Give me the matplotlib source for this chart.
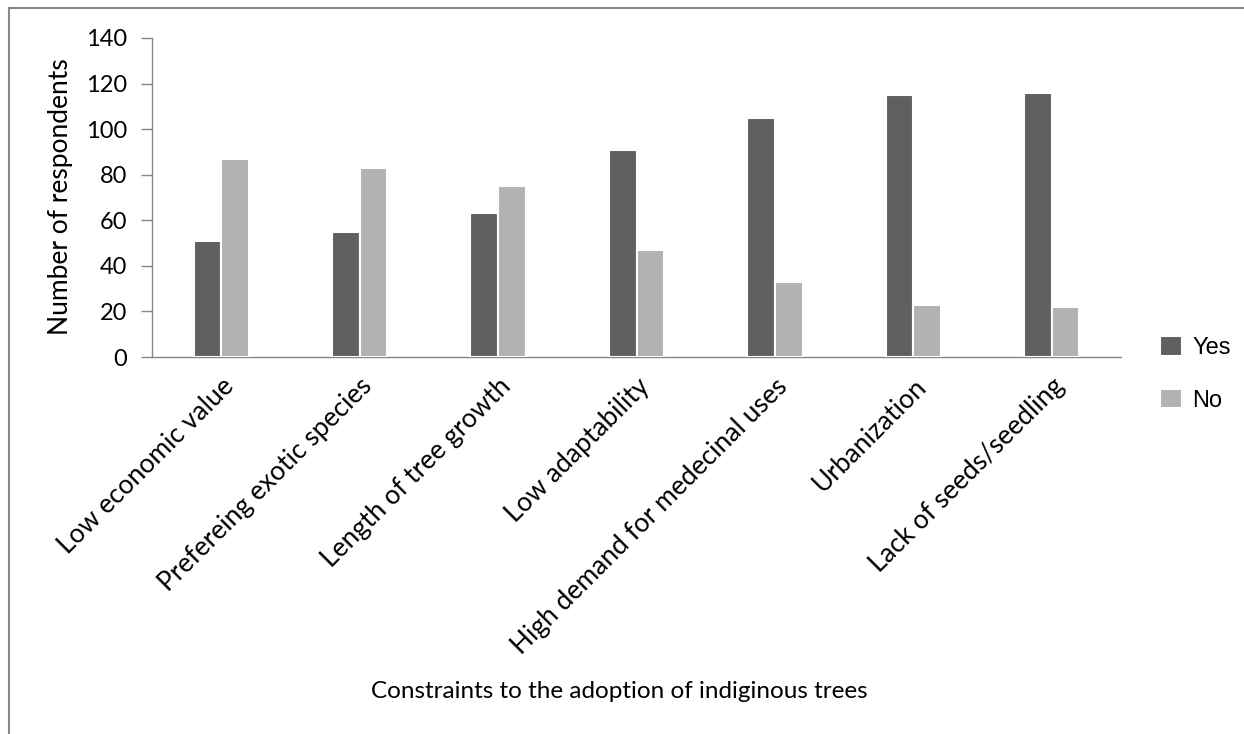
import numpy as np
import matplotlib
matplotlib.use("Agg")
import matplotlib.pyplot as plt
from matplotlib.lines import Line2D

plt.rcParams["font.family"] = ["Lato", "DejaVu Sans"]

constraints = [
    "Low economic value",
    "Prefereing exotic species",
    "Length of tree growth",
    "Low adaptability",
    "High demand for medecinal uses",
    "Urbanization",
    "Lack of seeds/seedling",
]
yes_counts = [51, 55, 63, 91, 105, 115, 116]
no_counts = [87, 83, 75, 47, 33, 23, 22]

W, H = 1244, 734
fig = plt.figure(figsize=(W / 100, H / 100), dpi=100)
ax = fig.add_axes([152 / W, 1 - 357 / H, (1121 - 152) / W, (357 - 38) / H])

x = np.arange(len(constraints))
b1 = ax.bar(x - 0.1, yes_counts, width=0.2, color="#606060", edgecolor="white",
            linewidth=1.5, label="Yes", zorder=3)
b2 = ax.bar(x + 0.1, no_counts, width=0.2, color="#b2b2b2", edgecolor="white",
            linewidth=1.5, label="No", zorder=3)

ax.set_xlim(-0.5, len(constraints) - 0.5)
ax.set_ylim(0, 140)
ax.set_yticks(range(0, 141, 20))
ax.set_xticks(x)
ax.set_xticklabels(constraints, rotation=45, ha="right", rotation_mode="anchor", fontsize=19)
ax.tick_params(axis="x", length=0, pad=12)
ax.tick_params(axis="y", length=8, width=1, color="#868686", labelsize=17, pad=10)
for s in ["top", "right"]:
    ax.spines[s].set_visible(False)
for s in ["left", "bottom"]:
    ax.spines[s].set_color("#868686")
    ax.spines[s].set_linewidth(1)

fig.text(61 / W, 1 - 197 / H, "Number of respondents", rotation=90,
         ha="center", va="center", fontsize=19)
fig.text(619 / W, 1 - 692 / H, "Constraints to the adoption of indiginous trees",
         ha="center", va="center", fontsize=17.5)

ax.legend(handles=[b1, b2], loc="center left", bbox_to_anchor=(1139 / W, 1 - 374 / H),
          bbox_transform=fig.transFigure, frameon=False,
          handlelength=0.9, handleheight=0.9, handletextpad=0.45, labelspacing=1.25,
          prop={"family": "Liberation Sans", "size": 17})

fig.add_artist(Line2D([8.5 / W, 8.5 / W], [0, 1 - 8 / H], color="#888888", lw=1.5,
                      transform=fig.transFigure))
fig.add_artist(Line2D([8.5 / W, 1], [1 - 8 / H, 1 - 8 / H], color="#888888", lw=1.5,
                      transform=fig.transFigure))

fig.savefig("out.png", dpi=100, facecolor="white")
